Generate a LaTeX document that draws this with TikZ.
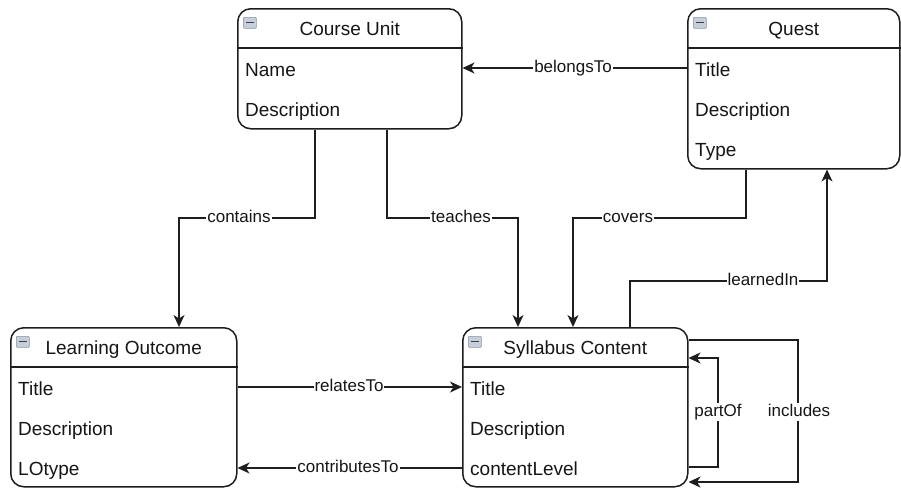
\documentclass[tikz,border=0pt]{standalone}
\usepackage{fontspec}
\setmainfont{Liberation Sans}
\usetikzlibrary{arrows.meta}
\definecolor{linec}{HTML}{1E1E1E}
\definecolor{txt}{HTML}{161616}
\definecolor{icof}{HTML}{C6CEDA}
\definecolor{icob}{HTML}{8A94A3}
\definecolor{icom}{HTML}{3A3F47}

% entity box: name, left x, top y, width, height, title
\newcommand{\erentity}[6]{%
  \node[ent, minimum width=#4pt, minimum height=#5pt] (#1) at (#2,#3) {};
  \draw[rel] ([yshift=-40pt]#1.north west) -- ([yshift=-40pt]#1.north east);
  \node[ico] (#1-ico) at ([xshift=6pt,yshift=-9pt]#1.north west) {};
  \draw[icom, line width=1.3pt] ([xshift=3pt]#1-ico.west) -- ([xshift=-3pt]#1-ico.east);
  \node[ttl, anchor=base] (#1-title) at ([yshift=-27pt]#1.north) {#6};
}
% attribute row: entity name, row index, text (baseline 28pt + 40pt per row below the top)
\newcommand{\erfield}[3]{%
  \node[fld] (#1-f#2) at ([xshift=8pt,yshift=-\the\numexpr 28+40*#2\relax pt]#1.north west) {#3};
}

\begin{document}
\begin{tikzpicture}[x=1pt,y=-1pt,
  ent/.style={draw=linec, line width=1.5pt, rounded corners=13pt, anchor=north west, inner sep=0pt, fill=white},
  ttl/.style={font=\fontsize{19}{22}\selectfont, text=txt, inner sep=0pt},
  fld/.style={font=\fontsize{19}{22}\selectfont, text=txt, anchor=base west, inner sep=0pt},
  lbl/.style={font=\fontsize{17}{20}\selectfont, text=txt, fill=white, inner sep=1pt, text height=12pt, text depth=3.5pt},
  rel/.style={draw=linec, line width=1.5pt},
  arr/.style={rel, -{Stealth[length=12pt,width=11pt,inset=3.5pt]}},
  ico/.style={draw=icob, fill=icof, line width=0.6pt, rounded corners=1pt, minimum width=13pt, minimum height=11pt, inner sep=0pt, anchor=north west}
]
\useasboundingbox[fill=white] (0,0) rectangle (901,488);

% entities
\erentity{cu}{237}{8}{224}{120}{Course Unit}
\erfield{cu}{1}{Name}
\erfield{cu}{2}{Description}

\erentity{quest}{687}{8}{212}{160}{Quest}
\erfield{quest}{1}{Title}
\erfield{quest}{2}{Description}
\erfield{quest}{3}{Type}

\erentity{lo}{10}{327}{226}{159}{Learning Outcome}
\erfield{lo}{1}{Title}
\erfield{lo}{2}{Description}
\erfield{lo}{3}{LOtype}

\erentity{sc}{462}{327}{225}{159}{Syllabus Content}
\erfield{sc}{1}{Title}
\erfield{sc}{2}{Description}
\erfield{sc}{3}{contentLevel}

% relationships
\draw[arr] (quest.west |- 0,68) -- (cu.east |- 0,68);
\draw[arr] (cu.south -| 315,0) -- (315,218) -- (179,218) -- (lo.north -| 179,0);
\draw[arr] (cu.south -| 387,0) -- (387,218) -- (518,218) -- (sc.north -| 518,0);
\draw[arr] (quest.south -| 746,0) -- (746,218) -- (573,218) -- (sc.north -| 573,0);
\draw[arr] (sc.north -| 630,0) -- (630,281) -- (827,281) -- (quest.south -| 827,0);
\draw[arr] (lo.east |- 0,387) -- (sc.west |- 0,387);
\draw[arr] (sc.west |- 0,468) -- (lo.east |- 0,468);
\draw[arr] (sc.east |- 0,467) -- (718,467) -- (718,358) -- (sc.east |- 0,358);
\draw[arr] (sc.east |- 0,340) -- (798,340) -- (798,482) -- (sc.east |- 0,482);

% relationship labels
\node[lbl] (l-belongs) at (573,68) {belongsTo};
\node[lbl] (l-contains) at (239,218) {contains};
\node[lbl] (l-teaches) at (461,218) {teaches};
\node[lbl] (l-covers) at (628,218) {covers};
\node[lbl] (l-learned) at (763,281) {learnedIn};
\node[lbl] (l-relates) at (349,387) {relatesTo};
\node[lbl] (l-contrib) at (348,468) {contributesTo};
\node[lbl] (l-partof) at (718,412) {partOf};
\node[lbl] (l-includes) at (799,412) {includes};
\end{tikzpicture}
\end{document}
